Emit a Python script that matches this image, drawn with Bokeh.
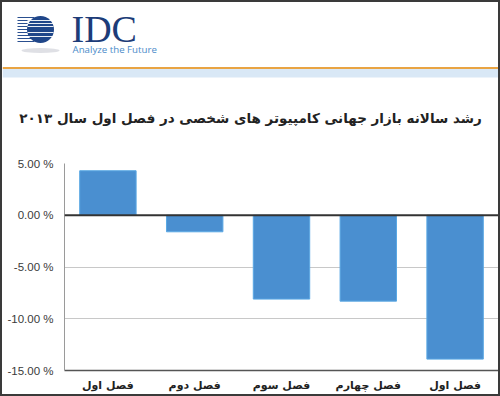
from bokeh.plotting import figure
from bokeh.layouts import column, row
from bokeh.models import FixedTicker, PrintfTickFormatter, Span, Range1d
from bokeh.embed import file_html
from bokeh.resources import INLINE
from bokeh.core.properties import value

# ---- data ----
title_text = "رشد سالانه بازار جهانی کامپیوتر های شخصی در فصل اول سال ۲۰۱۳"
quarters = ["فصل اول", "فصل دوم", "فصل سوم", "فصل چهارم", "فصل اول"]
growth = [4.3, -1.6, -8.1, -8.3, -13.9]
y_ticks = [5, 0, -5, -10, -15]
brand = "IDC"
tagline = "Analyze the Future"

W = 496
HH = 145
CH = 392 - HH

# ---- header (logo + rule + title) ----
hdr = figure(width=W, height=HH, x_range=Range1d(0, W), y_range=Range1d(HH, 0),
             toolbar_location=None, output_backend="svg", min_border=0,
             outline_line_color=None)
hdr.axis.visible = False
hdr.grid.visible = False

stripe_y = [15, 18, 21, 24, 27, 30, 33, 36, 39]
hdr.segment(x0=[15] * len(stripe_y), x1=[32] * len(stripe_y), y0=stripe_y, y1=stripe_y,
            line_color="#2a4f8f", line_width=1.2)
hdr.ellipse(x=[38], y=[48], width=[38], height=[5], fill_color="#c9ccd3",
            fill_alpha=0.6, line_color=None)
hdr.circle(x=[38], y=[27], radius=13.5, fill_color="#1f4689", line_color=None)
hdr.segment(x0=[25] * 5, x1=[51] * 5, y0=[18, 21, 24, 30, 34], y1=[18, 21, 24, 30, 34],
            line_color="white", line_width=1.1, line_alpha=0.9)
hdr.text(x=[69], y=[26.5], text=[brand], text_font=value("Liberation Serif"),
         text_font_size="38px", text_color="#1d3c78", text_baseline="middle")
hdr.text(x=[70], y=[47], text=[tagline], text_font=value("Open Sans"),
         text_font_size="9.7px", text_color="#4b8bc9", text_baseline="middle")
hdr.quad(left=[0], right=[W], top=[64.5], bottom=[66.5], fill_color="#e9a443", line_color=None)
hdr.quad(left=[0], right=[W], top=[66.5], bottom=[75], fill_color="#d9e8f6", line_color=None)

# chart title
hdr.text(x=[W / 2], y=[115], text=[title_text], text_font=value("DejaVu Sans"),
         text_font_size="13.5px", text_font_style="bold", text_color="#222222",
         text_align="center", text_baseline="middle")

# ---- chart ----
xs = list(range(1, len(quarters) + 1))
p = figure(width=W, height=CH, x_range=Range1d(0.5, len(quarters) + 0.5),
           y_range=Range1d(-15, 5), toolbar_location=None, output_backend="svg",
           min_border_left=62, min_border_right=0, min_border_top=16,
           min_border_bottom=23, outline_line_color=None)

p.vbar(x=xs, top=growth, bottom=0, width=0.65, fill_color="#4a8fd0",
       line_color="#5aa8e4", line_width=1)

p.add_layout(Span(location=0, dimension="width", line_color="#333333", line_width=2))

p.xgrid.visible = False
p.ygrid.ticker = FixedTicker(ticks=y_ticks)
p.ygrid.grid_line_color = "#c8c8c8"
p.ygrid.grid_line_width = 1

p.yaxis.ticker = FixedTicker(ticks=y_ticks)
p.yaxis.formatter = PrintfTickFormatter(format="%.2f %%")
p.yaxis.major_label_text_font = "Liberation Sans"
p.yaxis.major_label_text_font_size = "11.5px"
p.yaxis.major_label_text_color = "#3a3a3a"
p.yaxis.major_tick_line_color = None
p.yaxis.minor_tick_line_color = None
p.yaxis.axis_line_color = "#9a9a9a"
p.yaxis.major_label_standoff = 5

p.xaxis.ticker = FixedTicker(ticks=xs)
p.xaxis.major_label_overrides = {x: q for x, q in zip(xs, quarters)}
p.xaxis.major_label_text_font = "DejaVu Sans"
p.xaxis.major_label_text_font_size = "11px"
p.xaxis.major_label_text_font_style = "bold"
p.xaxis.major_label_text_color = "#222222"
p.xaxis.major_tick_line_color = None
p.xaxis.minor_tick_line_color = None
p.xaxis.axis_line_color = "#555555"
p.xaxis.axis_line_width = 1.5
p.xaxis.major_label_standoff = 2

layout = column(row(hdr), p, spacing=0, styles={"border": "2px solid #3a3a3a"})

open("out.html", "w").write(file_html(layout, INLINE))
